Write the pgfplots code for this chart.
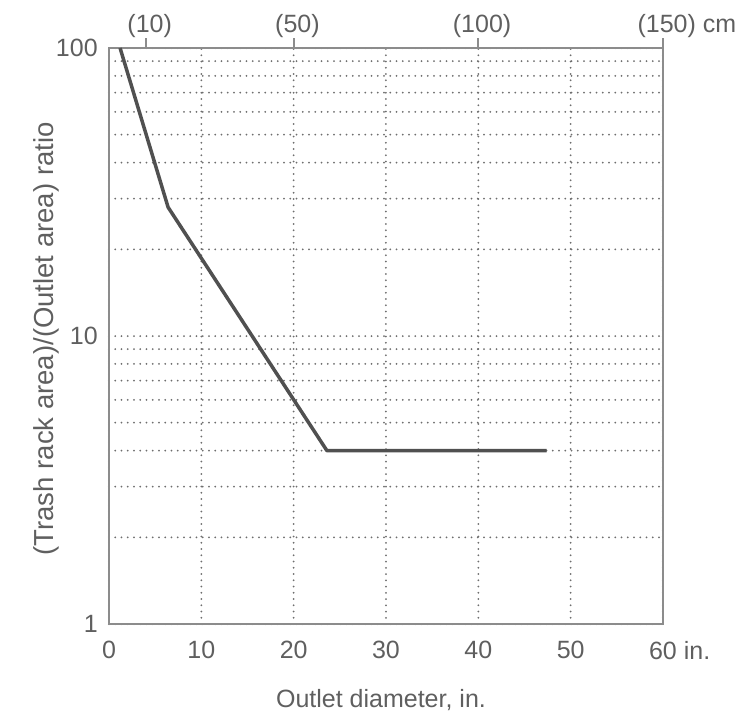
\documentclass[border=0pt]{standalone}
\usepackage{fontspec}
\setmainfont{Liberation Sans}
\usepackage{pgfplots}
\pgfplotsset{compat=1.18}
\definecolor{txt}{RGB}{95,95,95}
\definecolor{ax}{RGB}{140,140,140}
\definecolor{gridc}{RGB}{110,110,110}
\definecolor{curve}{RGB}{80,80,80}
\begin{document}
\begin{tikzpicture}
\useasboundingbox (-43.6pt,-38pt) rectangle (254pt,249.6pt);
\begin{axis}[
  at={(0,0)}, anchor=south west,
  scale only axis, width=221.6pt, height=230.4pt,
  xmin=0, xmax=60, ymode=log, ymin=1, ymax=100,
  xtick={0,10,...,60}, xticklabels={0,10,20,30,40,50,{60\rlap{\ in.}}},
  ytick={1,10,100}, yticklabels={1,10,100},
  minor ytick={2,3,4,5,6,7,8,9,20,30,40,50,60,70,80,90},
  major tick length=0pt, minor tick length=0pt,
  xmajorgrids, ymajorgrids, yminorgrids,
  grid style={gridc, line width=0.8pt, dash pattern=on 0pt off 2.5pt, line cap=round},
  axis line style={ax, line width=0.8pt},
  tick label style={font=\fontsize{10}{12}\selectfont, text=txt},
  label style={font=\fontsize{10}{12}\selectfont, text=txt},
  xticklabel style={yshift=-3.4pt},
  yticklabel style={xshift=-1pt},
  xlabel={Outlet diameter, in.},
  ylabel={(Trash rack area)/(Outlet area) ratio},
  xlabel style={at={(axis description cs:0.491,0)}, anchor=center, yshift=-30.4pt},
  ylabel style={at={(axis description cs:-0.1137,0.495)}, anchor=center, font=\fontsize{11}{13}\selectfont},
  clip=false,
]
\addplot[curve, line width=1.4pt, line join=round] coordinates {
  (1.2,100) (6.4,28) (23.6,4) (47.4,4)
};
\end{axis}
\begin{axis}[
  at={(0,0)}, anchor=south west,
  scale only axis, width=221.6pt, height=230.4pt,
  xmin=0, xmax=60, ymode=log, ymin=1, ymax=100,
  axis x line*=top, axis y line=none,
  x axis line style={draw=none},
  xtick={4,20,40,60}, xticklabels={(10),(50),(100),{(150)\rlap{\ cm}}},
  tick align=outside, major tick length=4pt,
  tick style={ax, line width=0.8pt},
  tick label style={font=\fontsize{10}{12}\selectfont, text=txt},
  xticklabel style={yshift=-3.2pt, xshift=1.5pt},
]
\addplot[draw=none] coordinates {(0,1)};
\end{axis}
\end{tikzpicture}
\end{document}
